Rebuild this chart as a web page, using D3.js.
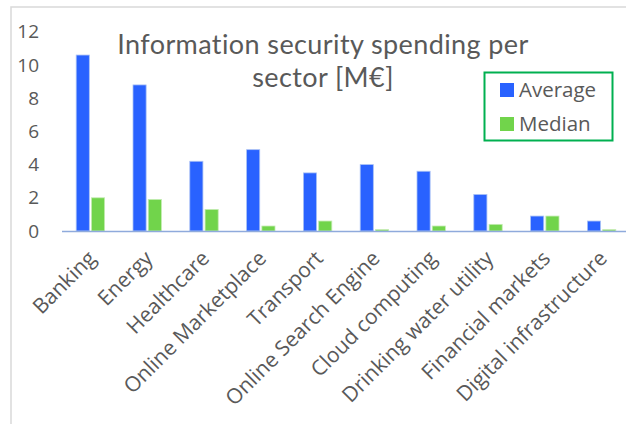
<!DOCTYPE html>
<html><head><meta charset="utf-8">
<script src="https://cdn.jsdelivr.net/npm/d3@7"></script>
<style>body{margin:0;background:#fff;} svg{display:block;}</style>
</head><body><svg id="c" width="626" height="424"></svg>
<script>
const categories = ["Banking","Energy","Healthcare","Online Marketplace","Transport","Online Search Engine","Cloud computing","Drinking water utility","Financial markets","Digital infrastructure"];
const average = [10.6, 8.8, 4.2, 4.9, 3.5, 4.0, 3.6, 2.2, 0.9, 0.6];
const median  = [2.0, 1.9, 1.3, 0.3, 0.6, 0.08, 0.3, 0.4, 0.9, 0.08];
const yTicks = [0, 2, 4, 6, 8, 10, 12];
const seriesNames = ["Average", "Median"];
const colors = ["#2962ff", "#71d44b"];

const svg = d3.select("#c");
svg.append("rect").attr("x",11).attr("y",7).attr("width",640).attr("height",440)
  .attr("fill","#fff").attr("stroke","#d9d9d9").attr("stroke-width",1.5);

const x0 = d3.scaleBand().domain(categories).range([62, 630]).paddingInner(0.5).paddingOuter(0.25);
const x1 = d3.scaleBand().domain(seriesNames).range([0, x0.bandwidth()]).paddingInner(0.14);
const y = d3.scaleLinear().domain([0, 12]).range([231, 31.8]);

const data = categories.map((c,i)=>({c, vals:[average[i], median[i]]}));
const g = svg.append("g");
g.selectAll("g.grp").data(data).join("g").attr("class","grp")
  .attr("transform", d=>`translate(${x0(d.c)},0)`)
  .selectAll("rect").data(d=>d.vals.map((v,j)=>({v,j}))).join("rect")
  .attr("x", d=>x1(seriesNames[d.j]))
  .attr("width", x1.bandwidth())
  .attr("y", d=>y(d.v))
  .attr("height", d=>y(0)-y(d.v))
  .attr("fill", d=>colors[d.j])
  .attr("stroke", d=> d.j===0 ? "#a9c1f5" : "#c3ebb1")
  .attr("stroke-width", 0.8);

// baseline
svg.append("line").attr("x1",62).attr("x2",626).attr("y1",y(0)+0.5).attr("y2",y(0)+0.5)
  .attr("stroke","#8faadc").attr("stroke-width",1.5);

// y axis labels
const yAxis = d3.axisLeft(y).tickValues(yTicks).tickSize(0).tickPadding(0);
const ya = svg.append("g").attr("transform","translate(39,0)").call(yAxis);
ya.select(".domain").remove();
ya.selectAll("text").attr("font-family","'Open Sans', sans-serif").attr("font-size",19).attr("fill","#595959");

// x labels
const xAxis = d3.axisBottom(x0).tickSize(0);
const xa = svg.append("g").attr("transform",`translate(0,${y(0)})`).call(xAxis);
xa.select(".domain").remove();
xa.selectAll("text")
  .attr("font-family","'Open Sans', sans-serif").attr("font-size",21).attr("fill","#595959")
  .attr("text-anchor","end").attr("y",0).attr("dy","0.72em")
  .attr("transform","translate(-4,18) rotate(-45)");

// title
const title = svg.append("text").attr("font-family","Lato, sans-serif").attr("font-size",27)
  .attr("letter-spacing",0.4).attr("fill","#595959").attr("text-anchor","middle");
title.append("tspan").attr("x",323).attr("y",54).text("Information security spending per");
title.append("tspan").attr("x",323).attr("y",87).text("sector [M€]");

// legend
const lg = svg.append("g");
lg.append("rect").attr("x",484.5).attr("y",72.5).attr("width",128).attr("height",68)
  .attr("fill","#fff").attr("stroke","#00b050").attr("stroke-width",2);
seriesNames.forEach((n,i)=>{
  lg.append("rect").attr("x",500).attr("y",83+i*34).attr("width",14).attr("height",14).attr("fill",colors[i]);
  lg.append("text").attr("x",519).attr("y",90+i*34).attr("dy","0.35em")
    .attr("font-family","'Open Sans', sans-serif").attr("font-size",20.5).attr("fill","#595959").text(n);
});
</script></body></html>
